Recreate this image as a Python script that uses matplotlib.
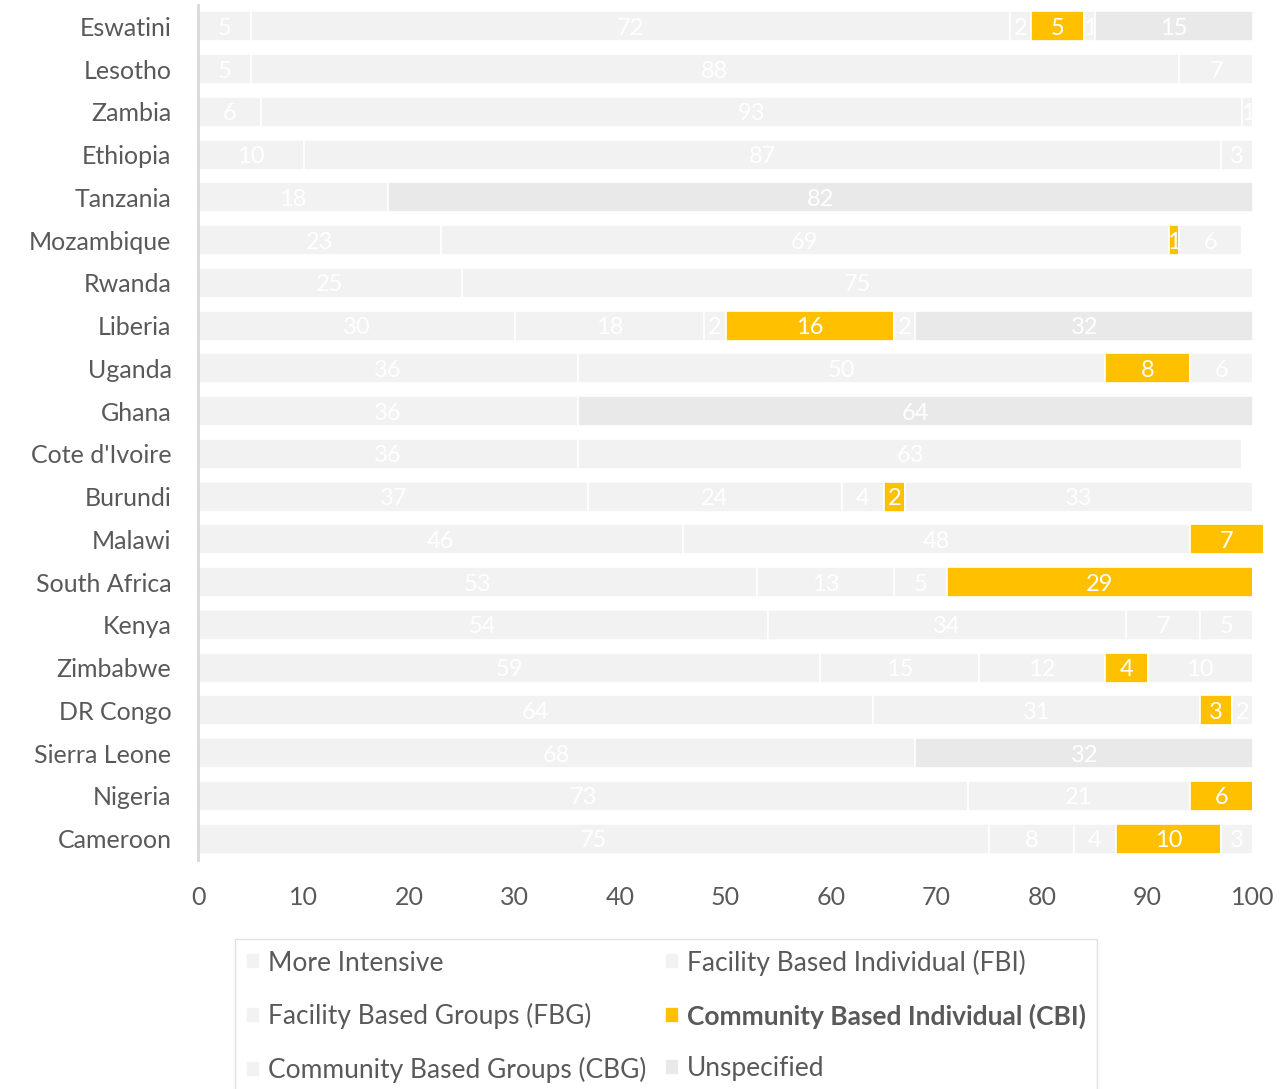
"""
    Stacked horizontal bars: share of models of care by country.
"""

import numpy as np
import matplotlib.pyplot as plt
import matplotlib.patches as patches

plt.rcParams['font.family'] = ['Lato', 'DejaVu Sans']

# Data, top row first.
countries = ['Eswatini', 'Lesotho', 'Zambia', 'Ethiopia', 'Tanzania',
             'Mozambique', 'Rwanda', 'Liberia', 'Uganda', 'Ghana',
             "Cote d'Ivoire", 'Burundi', 'Malawi', 'South Africa', 'Kenya',
             'Zimbabwe', 'DR Congo', 'Sierra Leone', 'Nigeria', 'Cameroon']
more_intensive = [5, 5, 6, 10, 18, 23, 25, 30, 36, 36, 36, 37, 46, 53, 54, 59, 64, 68, 73, 75]
fbi = [72, 88, 93, 87, 0, 69, 75, 18, 50, 0, 63, 24, 48, 13, 34, 15, 31, 0, 21, 8]
fbg = [2, 0, 0, 0, 0, 0, 0, 2, 0, 0, 0, 4, 0, 5, 7, 12, 0, 0, 0, 4]
cbi = [5, 0, 0, 0, 0, 1, 0, 16, 8, 0, 0, 2, 7, 29, 0, 4, 3, 0, 6, 10]
cbg = [1, 7, 1, 3, 0, 6, 0, 2, 6, 0, 0, 33, 0, 0, 5, 10, 2, 0, 0, 3]
unspecified = [15, 0, 0, 0, 82, 0, 0, 32, 0, 64, 0, 0, 0, 0, 0, 0, 0, 32, 0, 0]

series = [
    ('More Intensive', more_intensive, '#f2f2f2'),
    ('Facility Based Individual (FBI)', fbi, '#f2f2f2'),
    ('Facility Based Groups (FBG)', fbg, '#f2f2f2'),
    ('Community Based Individual (CBI)', cbi, '#ffc000'),
    ('Community Based Groups (CBG)', cbg, '#f2f2f2'),
    ('Unspecified', unspecified, '#e9e9e9'),
]

fig = plt.figure(figsize=(12.81, 10.89), dpi=100)
ax = fig.add_axes([198 / 1281, 229 / 1089, 1055 / 1281, 855 / 1089])

y = np.arange(len(countries))
left = np.zeros(len(countries))
handles = {}
for name, vals, color in series:
    vals = np.array(vals, dtype=float)
    bars = ax.barh(y, vals, left=left, height=0.70, color=color,
                   edgecolor='white', linewidth=1.2, clip_on=False, label=name)
    handles[name] = bars
    for rect, v in zip(bars, vals):
        if v > 0:
            ax.text(rect.get_x() + rect.get_width() / 2, rect.get_y() + rect.get_height() / 2,
                    '%d' % v, ha='center', va='center_baseline', color='white',
                    fontsize=17, clip_on=False)
    left += vals

ax.set_xlim(0, 100)
ax.set_ylim(len(countries) - 0.5, -0.5)
ax.set_xticks(np.arange(0, 101, 10))
ax.set_yticks(y)
ax.set_yticklabels(countries)
ax.tick_params(axis='both', length=0, labelsize=18, colors='#595959')
ax.tick_params(axis='x', pad=19)
ax.tick_params(axis='y', pad=19)
for side in ['top', 'right', 'bottom']:
    ax.spines[side].set_visible(False)
ax.spines['left'].set_color('#d9d9d9')
ax.spines['left'].set_linewidth(2)

# Legend laid out row by row: column one then column two.
order = ['More Intensive', 'Facility Based Groups (FBG)', 'Community Based Groups (CBG)',
         'Facility Based Individual (FBI)', 'Community Based Individual (CBI)', 'Unspecified']
leg = fig.legend([handles[n] for n in order], order, ncol=2,
                 loc='upper left', bbox_to_anchor=(235 / 1281, 1 - 939 / 1089),
                 frameon=True, fancybox=False, edgecolor='#d9d9d9',
                 fontsize=19, handlelength=0.55, handleheight=0.55, handletextpad=0.3,
                 labelspacing=1.05, columnspacing=0.7, borderpad=0.4, borderaxespad=0)
for t in leg.get_texts():
    t.set_color('#595959')
    if 'CBI' in t.get_text():
        t.set_fontweight('bold')

plt.savefig('out.png', dpi=100)
plt.close()
